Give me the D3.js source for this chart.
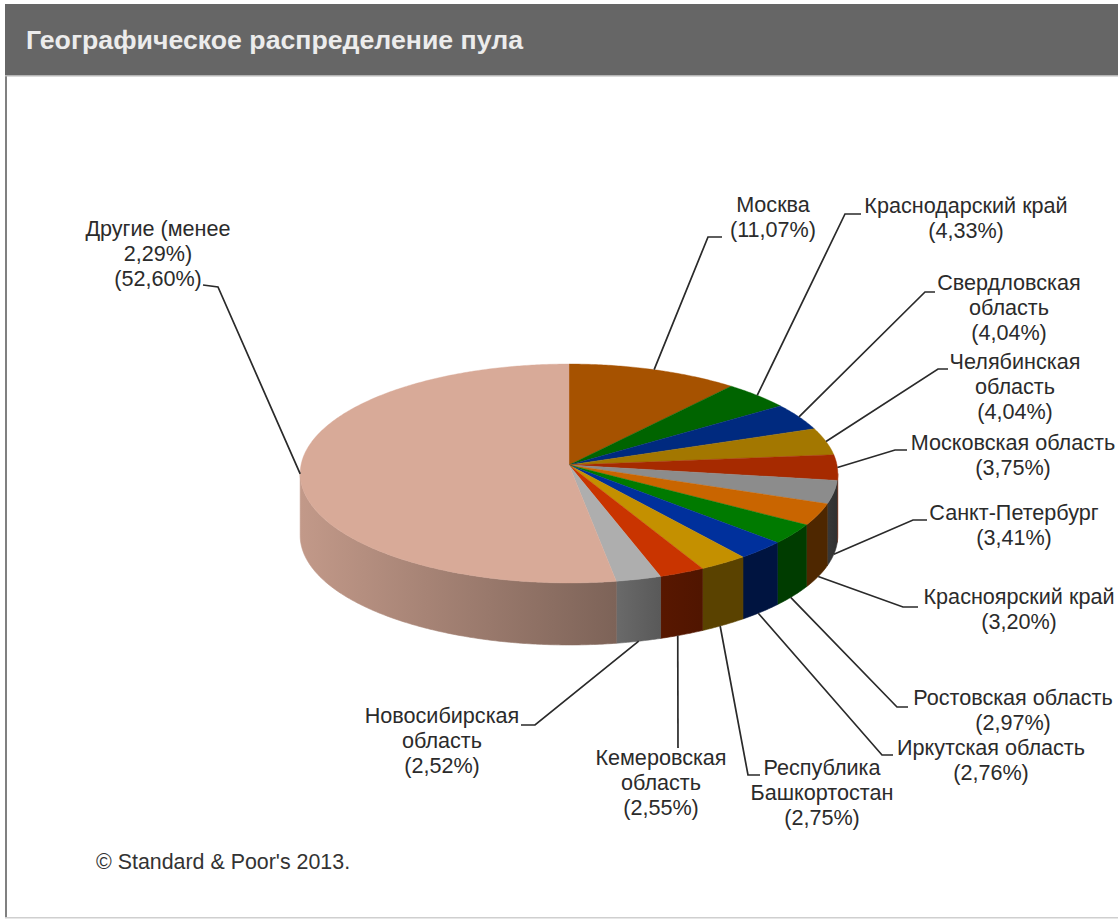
<!DOCTYPE html>
<html lang="ru">
<head>
<meta charset="utf-8">
<title>Географическое распределение пула</title>
<script src="https://cdn.jsdelivr.net/npm/d3@7"></script>
<style>
  html, body { margin: 0; padding: 0; background: #fff; }
  svg { display: block; }
  text { font-family: "Liberation Sans", Arial, sans-serif; }
</style>
</head>
<body>
<svg id="chart" width="1118" height="919"></svg>
<script>
// Regions, clockwise from twelve o'clock
const regions = [
  ["Москва"], ["Краснодарский край"], ["Свердловская", "область"],
  ["Челябинская", "область"], ["Московская область"], ["Санкт-Петербург"],
  ["Красноярский край"], ["Ростовская область"], ["Иркутская область"],
  ["Республика", "Башкортостан"], ["Кемеровская", "область"],
  ["Новосибирская", "область"], ["Другие (менее", "2,29%)"]
];
const shares = [11.07, 4.33, 4.04, 4.04, 3.75, 3.41, 3.20, 2.97, 2.76, 2.75, 2.55, 2.52, 52.60];
const sliceColors = ["#a65200", "#006400", "#002a7f", "#a37700", "#a62a00", "#8c8c8c", "#c96500",
                     "#007a00", "#00309c", "#c49000", "#c93400", "#aeaeae", "#d8aa98"];
// Rim darkening for each slice: left and right edge of the visible rim
const rimLeft  = [1, 1, 1, 1, 1, 0.40, 0.39, 0.49, 0.41, 0.46, 0.44, 0.61, 0.90];
const rimRight = [1, 1, 1, 1, 1, 0.34, 0.39, 0.49, 0.41, 0.46, 0.40, 0.51, 0.58];

// Label block centres and the elbow where each leader meets its label
const labelCenterX = [773, 966, 1009, 1015, 1013, 1014, 1019, 1013, 991, 822, 661, 442, 158];
const labelFirstY  = [205, 206, 283, 362, 443, 513, 597, 698, 748, 768, 758, 716, 229];
const leaderElbow  = [[708, 237], [845, 214], [925, 292], [938, 369], [895, 450], [913, 520], [903, 607],
                      [897, 707], [882, 755], [748, 775], [678, 748], [535, 725], [218, 287]];
const leaderEnd    = [[722, 237], [861, 214], [935, 292], [948, 369], [907, 450], [927, 520], [918, 607],
                      [908, 707], [893, 755], [760, 775], [678, 748], [521, 725], [203, 285]];
// Where along its arc each leader attaches (0 = leading edge, 1 = trailing edge)
const leaderAttach = [0.5, 0.5, 0.5, 0.5, 0.5, 0.5, 0.5, 0.58, 0.58, 0.58, 0.6, 0.5, 0.5];

const title = "Географическое распределение пула";
const copyright = "© Standard & Poor's 2013.";

const svg = d3.select("#chart");
const fmt = v => "(" + v.toFixed(2).replace(".", ",") + "%)";

// Header band and frame
svg.append("rect").attr("x", 5).attr("y", 4).attr("width", 1113).attr("height", 71).attr("fill", "#666666");
svg.append("text").attr("x", 26).attr("y", 49).attr("font-size", 26.7).attr("font-weight", "bold")
   .attr("fill", "#ececec").text(title);
svg.append("rect").attr("x", 5).attr("y", 75).attr("width", 2).attr("height", 843).attr("fill", "#808080");
svg.append("rect").attr("x", 5).attr("y", 75).attr("width", 1113).attr("height", 1.5).attr("fill", "#b5b5b5");
svg.append("rect").attr("x", 5).attr("y", 917).attr("width", 1113).attr("height", 1.5).attr("fill", "#cfcfcf");

// Perspective projection of the tilted disc: angle in radians, clockwise from the top
const cx = 569, cy = 465, kx = 268, ky = 108.8, persp = 0.0776, depth = 62;
const project = (a, dz = 0) => {
  const w = 1 + Math.cos(a) * persp;
  return [cx + kx * Math.sin(a) / w, cy - ky * Math.cos(a) / w + dz];
};

const angle = d3.scaleLinear().domain([0, d3.sum(shares)]).range([0, 2 * Math.PI]);
const running = d3.cumsum(shares);
const slices = shares.map((v, i) => ({
  i, v,
  a0: angle(i ? running[i - 1] : 0),
  a1: angle(running[i])
}));

const arcPoints = (a0, a1, dz) => {
  const n = Math.max(2, Math.ceil((a1 - a0) / 0.01));
  return d3.range(n + 1).map(j => project(a0 + (a1 - a0) * j / n, dz));
};
const line = d3.line();

// The rim is visible between the two horizontal extremes of the projected disc
const rimStart = Math.acos(-persp), rimEnd = 2 * Math.PI - rimStart;
const darken = (c, f) => { const r = d3.rgb(c); return d3.rgb(r.r * f, r.g * f, r.b * f).formatHex(); };

const defs = svg.append("defs");
const pie = svg.append("g");

slices.forEach(s => {
  const a0 = Math.max(s.a0, rimStart), a1 = Math.min(s.a1, rimEnd);
  if (a1 <= a0) return;
  const top = arcPoints(a0, a1, 0), bottom = arcPoints(a0, a1, depth).reverse();
  const [xMin, xMax] = d3.extent(top, p => p[0]);
  const id = "rim" + s.i;
  const grad = defs.append("linearGradient").attr("id", id).attr("gradientUnits", "userSpaceOnUse")
      .attr("x1", xMin).attr("x2", xMax).attr("y1", 0).attr("y2", 0);
  grad.append("stop").attr("offset", 0).attr("stop-color", darken(sliceColors[s.i], rimLeft[s.i]));
  grad.append("stop").attr("offset", 1).attr("stop-color", darken(sliceColors[s.i], rimRight[s.i]));
  pie.append("path").attr("d", line(top.concat(bottom)) + "Z")
     .attr("fill", `url(#${id})`).attr("stroke", `url(#${id})`).attr("stroke-width", 0.6);
});

slices.forEach(s => {
  pie.append("path")
     .attr("d", line([[cx, cy]].concat(arcPoints(s.a0, s.a1, 0))) + "Z")
     .attr("fill", sliceColors[s.i]).attr("stroke", sliceColors[s.i]).attr("stroke-width", 0.4);
});

// Leaders run from the slice's outer edge; front slices attach at the foot of the rim
const leaders = svg.append("g").attr("fill", "none").attr("stroke", "#2a2a2a").attr("stroke-width", 1.7);
slices.forEach(s => {
  const at = s.a0 + (s.a1 - s.a0) * leaderAttach[s.i];
  const front = at > 1.75 && at < 4.54;
  const start = project(at, front ? depth : 0);
  leaders.append("path").attr("d", line([start, leaderElbow[s.i], leaderEnd[s.i]]));
});

// Category labels with their shares on the last line
const labels = svg.append("g").attr("font-size", 21.6).attr("fill", "#2b2b2b").attr("text-anchor", "middle");
slices.forEach(s => {
  const rows = regions[s.i].concat(fmt(s.v));
  labels.append("text").selectAll("tspan").data(rows).join("tspan")
        .attr("x", labelCenterX[s.i])
        .attr("y", (d, j) => labelFirstY[s.i] + 7 + j * 25)
        .text(d => d);
});

svg.append("text").attr("x", 96).attr("y", 869).attr("font-size", 21.4).attr("fill", "#333").text(copyright);
</script>
</body>
</html>
